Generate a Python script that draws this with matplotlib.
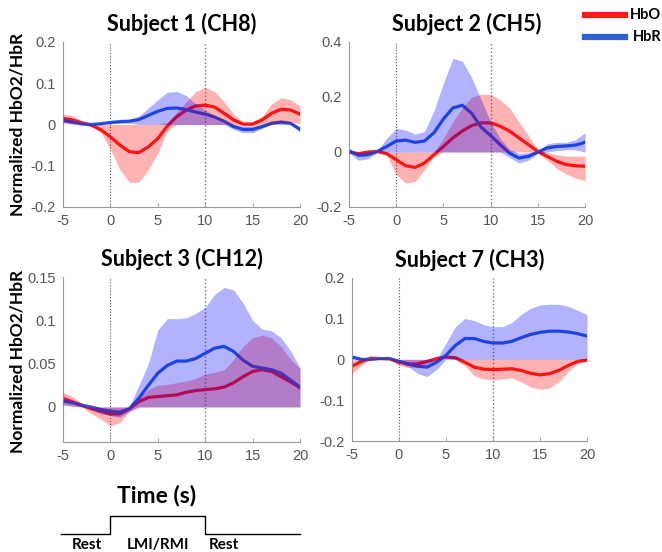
import matplotlib
matplotlib.use("Agg")
import matplotlib.pyplot as plt
from matplotlib.lines import Line2D

# time axis (s), one sample per second
t = list(range(-5, 21))

# Subject 1 (CH8)
s1_hbo = [0.015, 0.011, 0.004, -0.002, -0.013, -0.03, -0.05, -0.066, -0.068, -0.054, -0.034, -0.004, 0.019,
          0.035, 0.045, 0.047, 0.042, 0.027, 0.011, 0.001, 0.001, 0.011, 0.027, 0.037, 0.035, 0.025]
s1_hbo_lo = [0.005, 0.002, 0.0, -0.004, -0.02, -0.06, -0.11, -0.14, -0.14, -0.11, -0.07, -0.015, 0.0,
             0.0, 0.0, 0.0, 0.0, 0.0, 0.0, -0.003, -0.003, 0.0, 0.0, 0.005, 0.005, 0.002]
s1_hbo_hi = [0.025, 0.022, 0.008, 0.0, 0.0, 0.0, 0.0, 0.0, 0.0, 0.0, 0.0, 0.005, 0.03,
             0.055, 0.08, 0.09, 0.08, 0.055, 0.025, 0.005, 0.005, 0.02, 0.05, 0.065, 0.06, 0.045]
s1_hbr = [0.01, 0.006, 0.002, 0.0, 0.002, 0.005, 0.007, 0.008, 0.012, 0.022, 0.032, 0.039, 0.04,
          0.036, 0.03, 0.025, 0.018, 0.008, -0.005, -0.012, -0.012, -0.005, 0.003, 0.006, 0.003, -0.012]
s1_hbr_lo = [0.004, 0.001, -0.002, -0.003, 0.0, 0.002, 0.003, 0.003, 0.0, 0.0, 0.0, 0.0, 0.0,
             0.0, 0.0, 0.0, 0.0, 0.0, -0.012, -0.02, -0.02, -0.01, 0.0, 0.0, 0.0, -0.018]
s1_hbr_hi = [0.016, 0.01, 0.004, 0.002, 0.004, 0.008, 0.01, 0.012, 0.02, 0.04, 0.06, 0.078, 0.08,
             0.07, 0.05, 0.035, 0.022, 0.01, 0.0, -0.004, -0.004, 0.0, 0.008, 0.01, 0.006, -0.005]

# Subject 2 (CH5)
s2_hbo = [0.0, -0.006, 0.0, 0.002, -0.006, -0.028, -0.05, -0.056, -0.04, -0.01, 0.02, 0.051, 0.076,
          0.096, 0.106, 0.106, 0.094, 0.076, 0.051, 0.027, 0.002, -0.016, -0.034, -0.046, -0.05, -0.052]
s2_hbo_lo = [-0.005, -0.01, -0.004, -0.002, -0.012, -0.083, -0.113, -0.107, -0.065, -0.016, 0.0, 0.0, 0.0,
             0.0, 0.0, 0.0, 0.0, 0.0, 0.0, 0.0, -0.003, -0.03, -0.06, -0.08, -0.095, -0.105]
s2_hbo_hi = [0.005, 0.0, 0.005, 0.008, 0.0, 0.0, 0.0, 0.0, 0.0, 0.0, 0.05, 0.11, 0.16,
             0.2, 0.21, 0.21, 0.19, 0.16, 0.11, 0.06, 0.01, -0.002, -0.01, -0.015, -0.015, -0.015]
s2_hbr = [0.005, -0.012, -0.01, 0.002, 0.02, 0.04, 0.043, 0.035, 0.04, 0.07, 0.12, 0.16, 0.17,
          0.14, 0.09, 0.06, 0.027, -0.004, -0.022, -0.016, 0.0, 0.015, 0.02, 0.022, 0.025, 0.035]
s2_hbr_lo = [-0.003, -0.03, -0.025, 0.0, 0.0, 0.0, 0.0, 0.0, 0.0, 0.0, 0.0, 0.0, 0.0,
             0.0, 0.0, 0.0, 0.0, -0.02, -0.04, -0.03, -0.005, 0.0, 0.005, 0.008, 0.008, 0.0]
s2_hbr_hi = [0.008, -0.003, 0.0, 0.005, 0.05, 0.085, 0.08, 0.065, 0.075, 0.15, 0.25, 0.34, 0.33,
             0.27, 0.19, 0.11, 0.05, 0.01, -0.005, -0.003, 0.003, 0.03, 0.035, 0.035, 0.045, 0.07]

# Subject 3 (CH12)
s3_hbo = [0.01, 0.006, 0.002, -0.002, -0.005, -0.008, -0.008, -0.002, 0.006, 0.011, 0.012, 0.013, 0.014,
          0.017, 0.019, 0.02, 0.021, 0.023, 0.028, 0.035, 0.041, 0.043, 0.041, 0.035, 0.029, 0.022]
s3_hbo_lo = [0.003, 0.001, 0.0, -0.008, -0.014, -0.022, -0.018, -0.005, 0.0, 0.0, 0.0, 0.0, 0.0,
             0.0, 0.0, 0.0, 0.0, 0.0, 0.0, 0.0, 0.0, 0.0, 0.0, 0.0, 0.0, 0.0]
s3_hbo_hi = [0.017, 0.012, 0.004, 0.0, 0.0, 0.0, 0.0, 0.0, 0.01, 0.02, 0.025, 0.026, 0.028,
             0.03, 0.033, 0.038, 0.04, 0.043, 0.055, 0.07, 0.08, 0.083, 0.08, 0.07, 0.055, 0.045]
s3_hbr = [0.007, 0.005, 0.002, 0.0, -0.003, -0.005, -0.006, -0.002, 0.01, 0.025, 0.039, 0.048, 0.053,
          0.053, 0.056, 0.062, 0.068, 0.07, 0.064, 0.054, 0.047, 0.045, 0.043, 0.039, 0.031, 0.023]
s3_hbr_lo = [0.002, 0.001, 0.0, -0.003, -0.008, -0.01, -0.012, -0.005, 0.0, 0.0, 0.0, 0.0, 0.0,
             0.0, 0.0, 0.0, 0.0, 0.0, 0.0, 0.0, 0.0, 0.0, 0.0, 0.0, 0.0, 0.0]
s3_hbr_hi = [0.01, 0.007, 0.003, 0.0, 0.0, 0.0, 0.0, 0.0, 0.025, 0.05, 0.089, 0.102, 0.102,
             0.103, 0.108, 0.115, 0.13, 0.138, 0.135, 0.12, 0.1, 0.09, 0.088, 0.08, 0.065, 0.045]

# Subject 7 (CH3)
s7_hbo = [-0.017, -0.005, 0.003, 0.002, 0.001, -0.007, -0.012, -0.011, -0.005, 0.002, 0.006, 0.004, -0.007,
          -0.019, -0.024, -0.025, -0.024, -0.023, -0.027, -0.034, -0.038, -0.035, -0.027, -0.015, -0.005, -0.002]
s7_hbo_lo = [-0.035, -0.015, 0.0, 0.0, 0.0, -0.015, -0.02, -0.02, -0.012, -0.002, 0.002, 0.0, -0.015,
             -0.04, -0.048, -0.05, -0.048, -0.045, -0.055, -0.068, -0.073, -0.07, -0.055, -0.03, -0.01, -0.004]
s7_hbo_hi = [-0.002, 0.0, 0.005, 0.005, 0.004, 0.0, 0.0, 0.0, 0.0, 0.004, 0.008, 0.008, 0.0,
             0.0, 0.0, 0.0, 0.0, 0.0, 0.0, 0.0, 0.0, 0.0, 0.0, 0.0, 0.0, 0.0]
s7_hbr = [0.006, 0.0, 0.0, 0.002, 0.002, -0.005, -0.011, -0.017, -0.019, -0.007, 0.01, 0.034, 0.051,
          0.051, 0.044, 0.04, 0.04, 0.044, 0.053, 0.061, 0.066, 0.069, 0.069, 0.067, 0.063, 0.057]
s7_hbr_lo = [0.0, -0.003, -0.002, 0.0, 0.0, -0.008, -0.018, -0.035, -0.042, -0.025, 0.0, 0.0, 0.0,
             0.0, 0.0, 0.0, 0.0, 0.0, 0.0, 0.0, 0.0, 0.0, 0.0, 0.0, 0.0, 0.0]
s7_hbr_hi = [0.01, 0.003, 0.002, 0.004, 0.004, 0.0, 0.0, 0.0, 0.0, 0.0, 0.04, 0.08, 0.1,
             0.095, 0.085, 0.08, 0.08, 0.09, 0.11, 0.125, 0.133, 0.135, 0.135, 0.13, 0.12, 0.11]

titles = ["Subject 1 (CH8)", "Subject 2 (CH5)", "Subject 3 (CH12)", "Subject 7 (CH3)"]
ylims = [(-0.2, 0.2), (-0.2, 0.4), (-0.04, 0.15), (-0.2, 0.2)]
yticks = [[-0.2, -0.1, 0, 0.1, 0.2], [-0.2, 0, 0.2, 0.4], [0, 0.05, 0.1, 0.15], [-0.2, -0.1, 0, 0.1, 0.2]]
yticklabels = [["-0.2", "-0.1", "0", "0.1", "0.2"], ["-0.2", "0", "0.2", "0.4"],
               ["0", "0.05", "0.1", "0.15"], ["-0.2", "-0.1", "0", "0.1", "0.2"]]
xticks = [-5, 0, 5, 10, 15, 20]

hbo_series = [(s1_hbo, s1_hbo_lo, s1_hbo_hi), (s2_hbo, s2_hbo_lo, s2_hbo_hi),
              (s3_hbo, s3_hbo_lo, s3_hbo_hi), (s7_hbo, s7_hbo_lo, s7_hbo_hi)]
hbr_series = [(s1_hbr, s1_hbr_lo, s1_hbr_hi), (s2_hbr, s2_hbr_lo, s2_hbr_hi),
              (s3_hbr, s3_hbr_lo, s3_hbr_hi), (s7_hbr, s7_hbr_lo, s7_hbr_hi)]

# block design of the task: rest / imagery / rest
block_t = [-5.2, 0, 0, 10, 10, 20]
block_v = [0, 0, 1, 1, 0, 0]
block_labels = ["Rest", "LMI/RMI", "Rest"]
block_label_x = [-2.5, 5, 12]

# axes rectangles in figure fractions
positions = [[0.0952, 0.625, 0.358, 0.299], [0.5272, 0.625, 0.3565, 0.299],
             [0.0952, 0.200, 0.358, 0.298], [0.5317, 0.201, 0.355, 0.296]]

red_line = "#ff1a1a"
blue_line = "#2a62d6"
tick_color = "#555555"
title_font = "Lato"

fig = plt.figure(figsize=(6.62, 5.52), dpi=100)

for i in range(4):
    ax = fig.add_axes(positions[i])
    m, lo, hi = hbo_series[i]
    ax.plot(t, m, color=red_line, lw=2.3, zorder=2)
    m2, lo2, hi2 = hbr_series[i]
    ax.plot(t, m2, color=blue_line, lw=2.3, zorder=2)
    ax.fill_between(t, lo, hi, color="red", alpha=0.3, lw=0, zorder=3)
    ax.fill_between(t, lo2, hi2, color="blue", alpha=0.3, lw=0, zorder=3)
    ax.axvline(0, color="#555555", ls=":", lw=0.8, zorder=1)
    ax.axvline(10, color="#777777", ls=":", lw=1.0, zorder=1)
    ax.set_xlim(-5, 20)
    ax.set_ylim(*ylims[i])
    ax.set_xticks(xticks)
    ax.set_xticklabels([str(v) for v in xticks])
    ax.set_yticks(yticks[i])
    ax.set_yticklabels(yticklabels[i])
    ax.tick_params(direction="in", colors="#999999", labelcolor=tick_color, labelsize=10.5)
    ax.tick_params(axis="x", length=3, width=0.6, pad=5)
    ax.tick_params(axis="y", length=0, pad=5)
    for lab in ax.get_xticklabels() + ax.get_yticklabels():
        lab.set_family("Liberation Sans")
    for side in ["top", "right"]:
        ax.spines[side].set_visible(False)
    for side in ["left", "bottom"]:
        ax.spines[side].set_color("#999999")
        ax.spines[side].set_linewidth(0.8)
    ax.set_title(titles[i], fontsize=15.5, fontweight="bold", family=title_font, pad=8)

# y labels for each row
fig.text(0.027, 0.775, "Normalized HbO2/HbR", rotation=90, ha="center", va="center",
         fontsize=12.5, fontweight="bold", family=title_font)
fig.text(0.027, 0.345, "Normalized HbO2/HbR", rotation=90, ha="center", va="center",
         fontsize=12.5, fontweight="bold", family=title_font)

# legend drawn in figure coords
fig.add_artist(Line2D([0.884, 0.944], [0.973, 0.973], color=red_line, lw=4.5))
fig.add_artist(Line2D([0.884, 0.944], [0.933, 0.933], color=blue_line, lw=4.5))
fig.text(0.951, 0.973, "HbO", ha="left", va="center", fontsize=10.5, fontweight="bold", family=title_font)
fig.text(0.956, 0.933, "HbR", ha="left", va="center", fontsize=10.5, fontweight="bold", family=title_font)

# time label and block design diagram
fig.text(0.237, 0.102, "Time (s)", ha="center", va="center", fontsize=16.5, fontweight="bold",
         family=title_font)
axb = fig.add_axes([0.0952, 0.0, 0.358, 0.08])
axb.plot(block_t, block_v, color="black", lw=1.0, clip_on=False)
axb.set_xlim(-5, 20)
axb.set_ylim(-1, 1.454)
axb.axis("off")
for xpos, lab in zip(block_label_x, block_labels):
    axb.text(xpos, -0.6, lab, ha="center", va="center", fontsize=11, fontweight="bold",
             family=title_font, clip_on=False)

fig.savefig("out.png", dpi=100)
